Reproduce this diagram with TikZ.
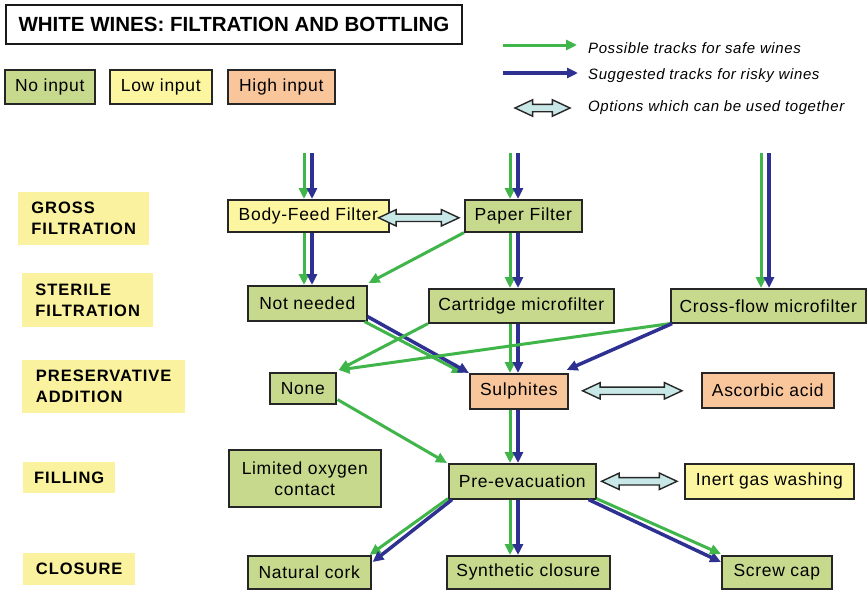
\documentclass[tikz,border=0pt]{standalone}
\usepackage{fontspec}
\setmainfont{Liberation Sans}
\newfontfamily\nodefnt[LetterSpace=4]{Liberation Sans}
\newfontfamily\stagefnt[LetterSpace=6]{Liberation Sans}
\usetikzlibrary{arrows.meta,calc,shapes.arrows}
\definecolor{boxgreen}{RGB}{198,217,140}
\definecolor{boxyellow}{RGB}{252,246,160}
\definecolor{boxorange}{RGB}{249,198,155}
\definecolor{stageyellow}{RGB}{250,242,158}
\definecolor{arrgreen}{RGB}{64,181,74}
\definecolor{arrblue}{RGB}{46,49,146}
\definecolor{optfill}{RGB}{200,232,232}
\tikzset{
  size/.style 2 args={minimum width=#1pt, minimum height=#2pt},
  box/.style={draw=black!85, line width=1.6pt, inner sep=0pt, anchor=north west, align=center,
    font={\nodefnt\fontsize{17.5pt}{20pt}\selectfont}},
  gbox/.style={box, fill=boxgreen},
  ybox/.style={box, fill=boxyellow},
  obox/.style={box, fill=boxorange},
  stage/.style={fill=stageyellow, inner sep=0pt, anchor=north west, align=left,
    font={\stagefnt\bfseries\fontsize{16.5pt}{21pt}\selectfont}},
  ga/.style={draw=arrgreen, line width=3pt, -{Triangle[length=11pt,width=10pt]}},
  ba/.style={draw=arrblue, line width=3.5pt, -{Triangle[length=11pt,width=10pt]}},
  dbl/.style={double arrow, draw=black!85, fill=optfill, line width=1.4pt,
    double arrow head extend=4.5pt, double arrow tip angle=50, inner sep=3pt,
    text height=0pt, text depth=0pt},
  opt/.style={to path={let \p1=(\tikztostart), \p2=(\tikztotarget), \n1={veclen(\x2-\x1,\y2-\y1)} in
    node[dbl, minimum height=\n1] at ($(\p1)!0.5!(\p2)$) {}}},
  legtext/.style={anchor=west, inner sep=0pt, font={\nodefnt\itshape\fontsize{15pt}{18pt}\selectfont}}
}
\begin{document}
\begin{tikzpicture}[x=1pt,y=-1pt]
\useasboundingbox (0,0) rectangle (867,589);
\fill[white] (0,0) rectangle (867,589);

% title and legend
\node[draw=black!90, line width=2pt, fill=white, anchor=north west, size={456}{39}, inner sep=0pt,
  font={\bfseries\fontsize{20.5pt}{24pt}\selectfont}] (title) at (5,4) {WHITE WINES: FILTRATION AND BOTTLING};
\node[gbox, size={90}{34}] (noin) at (4,69) {No input};
\node[ybox, size={102}{34}] (lowin) at (109,69) {Low input};
\node[obox, size={107}{34}] (highin) at (227,69) {High input};

\coordinate (lg1) at (503,45); \coordinate (lg2) at (577,45);
\coordinate (lb1) at (503,73); \coordinate (lb2) at (578,73);
\coordinate (lo1) at (515,108); \coordinate (lo2) at (570,108);
\draw[ga] (lg1) -- (lg2);
\draw[ba] (lb1) -- (lb2);
\path (lo1) to[opt] (lo2);
\node[legtext] (t1) at (588,48) {Possible tracks for safe wines};
\node[legtext] (t2) at (588,76) {Suggested tracks for risky wines};
\node[legtext] (t3) at (588,108) {Options which can be used together};

% stage labels
\node[stage, size={131}{53}] (st1) at (18,192) {GROSS\\FILTRATION};
\node[stage, size={131}{54}] (st2) at (22,273) {STERILE\\FILTRATION};
\node[stage, size={163}{53}] (st3) at (22,360) {PRESERVATIVE\\ADDITION};
\node[stage, size={92}{31}] (st4) at (23,462) {FILLING};
\node[stage, size={112}{32}] (st5) at (23,553) {CLOSURE};

% flow nodes
\node[ybox, size={161}{32}] (bf) at (227,199) {Body-Feed Filter};
\node[gbox, size={117}{32}] (pf) at (464,199) {Paper Filter};
\node[gbox, size={119}{35}] (nn) at (247,285) {Not needed};
\node[gbox, size={185}{34}] (cm) at (428,288) {Cartridge microfilter};
\node[gbox, size={195}{34}] (cf) at (670,288) {Cross-flow microfilter};
\node[gbox, size={66}{31}] (no) at (269,372) {None};
\node[obox, size={98}{35}] (su) at (469,373) {Sulphites};
\node[obox, size={132}{35}] (as) at (701,372) {Ascorbic acid};
\node[gbox, size={152}{57}, font={\nodefnt\fontsize{17.5pt}{21pt}\selectfont}] (lo) at (228,449) {Limited oxygen\\contact};
\node[gbox, size={147}{35}] (pe) at (448,463) {Pre-evacuation};
\node[ybox, size={169}{35}] (ig) at (684,463) {Inert gas washing};
\node[gbox, size={123}{33}] (nc) at (247,555) {Natural cork};
\node[gbox, size={163}{33}] (sy) at (446,555) {Synthetic closure};
\node[gbox, size={110}{33}] (sc) at (721,555) {Screw cap};

% column coordinates (free ends at top)
\coordinate (gA) at (304,153); \coordinate (bA) at (312,153);
\coordinate (gB) at (510,153); \coordinate (bB) at (518,153);
\coordinate (gC) at (761,153); \coordinate (bC) at (769,153);

% vertical pairs
\draw[ga] (gA) -- (bf.north -| gA);  \draw[ba] (bA) -- (bf.north -| bA);
\draw[ga] (gB) -- (pf.north -| gB);  \draw[ba] (bB) -- (pf.north -| bB);
\draw[ga] (gC) -- (cf.north -| gC);  \draw[ba] (bC) -- (cf.north -| bC);
\draw[ga] (bf.south -| gA) -- (nn.north -| gA);  \draw[ba] (bf.south -| bA) -- (nn.north -| bA);
\draw[ga] (pf.south -| gB) -- (cm.north -| gB);  \draw[ba] (pf.south -| bB) -- (cm.north -| bB);
\draw[ga] (cm.south -| gB) -- (su.north -| gB);  \draw[ba] (cm.south -| bB) -- (su.north -| bB);
\draw[ga] (su.south -| gB) -- (pe.north -| gB);  \draw[ba] (su.south -| bB) -- (pe.north -| bB);
\draw[ga] (pe.south -| gB) -- (sy.north -| gB);  \draw[ba] (pe.south -| bB) -- (sy.north -| bB);

% diagonals
\draw[ga] (pf.south west) -- ($(nn.north east)+(1,-2)$);
\draw[ga] ($(nn.south east)+(-3,0)$) -- ($(su.north west)+(-6,0)$);
\draw[ba] ($(nn.south east)+(0,-5)$) -- ($(su.north west)+(0,0)$);
\draw[ga] (cm.south west) -- ($(no.north east)+(2,-2)$);
\draw[ga] (cf.south west) -- ($(no.north east)+(2,-2)$);
\draw[ba] ($(cf.south west)+(2,0)$) -- ($(su.north east)+(-2,-3)$);
\draw[ga] ($(no.south east)+(1,-5)$) -- ($(pe.north west)+(-1,0)$);
\draw[ga] ($(pe.south west)+(0,-1)$) -- ($(nc.north east)+(-2,0)$);
\draw[ba] ($(pe.south west)+(4,0)$) -- ($(nc.north east)+(1,7)$);
\draw[ba] ($(pe.south east)+(-8,0)$) -- ($(sc.north west)+(0,7)$);
\draw[ga] ($(pe.south east)+(0,-1)$) -- ($(sc.north west)+(0,-1)$);

% options which can be used together
\coordinate (o1a) at ($(bf.east)+(-11,2)$); \coordinate (o1b) at ($(pf.west)+(-5,2)$);
\coordinate (o2a) at ($(su.east)+(14,0)$);  \coordinate (o2b) at ($(as.west)+(-19,0)$);
\coordinate (o3a) at ($(pe.east)+(5,0)$);   \coordinate (o3b) at ($(ig.west)+(-7,0)$);
\path (o1a) to[opt] (o1b);
\path (o2a) to[opt] (o2b);
\path (o3a) to[opt] (o3b);
\end{tikzpicture}
\end{document}
